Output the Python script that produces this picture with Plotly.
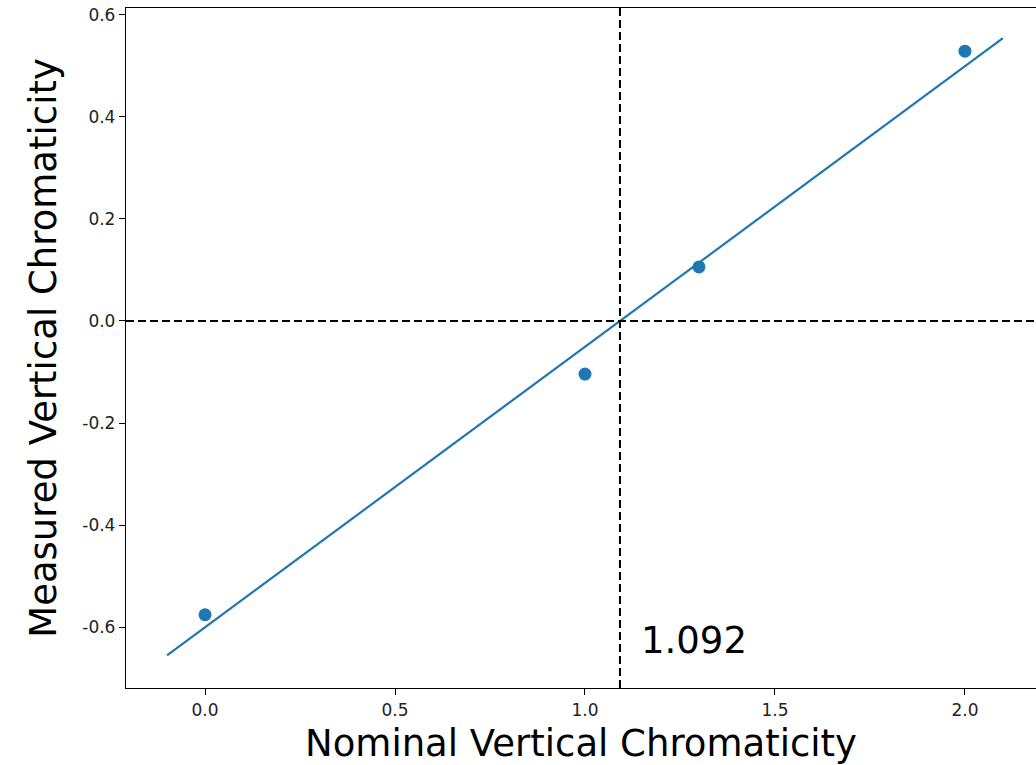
import plotly.graph_objects as go

# data
nominal = [0.0, 1.0, 1.3, 2.0]
measured = [-0.576, -0.104, 0.106, 0.529]
fit_x = [-0.1, 2.1]
fit_y = [-0.6556, 0.5544]
crossing = 1.092
x_ticks = [0.0, 0.5, 1.0, 1.5, 2.0]
y_ticks = [-0.6, -0.4, -0.2, 0.0, 0.2, 0.4, 0.6]

BLUE = "#1f77b4"
FONT = "DejaVu Sans"

fig = go.Figure()
fig.add_trace(go.Scatter(x=nominal, y=measured, mode="markers",
                         marker=dict(color=BLUE, size=13, line=dict(width=0)),
                         showlegend=False))
fig.add_trace(go.Scatter(x=fit_x, y=fit_y, mode="lines",
                         line=dict(color=BLUE, width=2.2), showlegend=False))

fig.add_shape(type="line", xref="paper", yref="y", x0=0, x1=1, y0=0, y1=0,
              line=dict(color="black", width=2, dash="8px,4px"))
fig.add_shape(type="line", xref="x", yref="paper", x0=crossing, x1=crossing, y0=0, y1=1,
              line=dict(color="black", width=2, dash="8px,4px"))

fig.add_annotation(x=crossing + 0.05, y=-0.627, text=f"{crossing:.3f}", showarrow=False,
                   xanchor="left", yanchor="middle",
                   font=dict(family=FONT, size=37, color="black"))

fig.update_layout(
    width=1036, height=765,
    margin=dict(l=126, r=0, t=8, b=77),
    plot_bgcolor="white", paper_bgcolor="white",
    font=dict(family=FONT, color="black"),
)
fig.update_xaxes(range=[-0.208, 2.187], tickvals=x_ticks, ticktext=[f"{v:.1f}" for v in x_ticks],
                 showgrid=False, zeroline=False, showline=True, linecolor="black", linewidth=1.3,
                 mirror=True, ticks="outside", ticklen=6, tickwidth=1.3, tickcolor="black",
                 tickfont=dict(size=17, color="#222222"),
                 title=dict(text="Nominal Vertical Chromaticity", font=dict(size=37), standoff=14))
fig.update_yaxes(range=[-0.7196, 0.6137], tickvals=y_ticks, ticktext=[f"{v:.1f}" for v in y_ticks],
                 showgrid=False, zeroline=False, showline=True, linecolor="black", linewidth=1.3,
                 mirror=False, ticks="outside", ticklen=6, tickwidth=1.3, tickcolor="black",
                 tickfont=dict(size=17, color="#222222"),
                 title=dict(text="Measured Vertical Chromaticity", font=dict(size=37), standoff=14))

fig.write_html("out.html")
